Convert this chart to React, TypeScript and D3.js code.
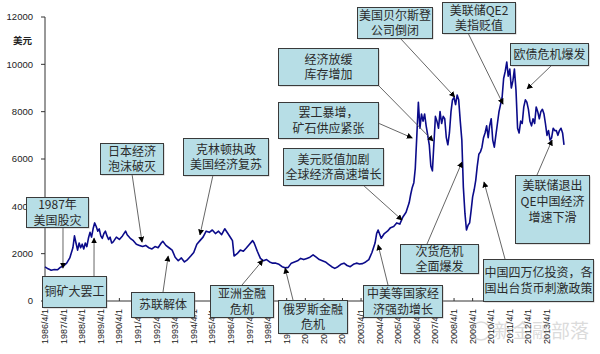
import React, { useEffect, useRef } from 'react';
import * as d3 from 'd3';

// LME copper, USD/t, monthly readings
const months = [
  '1986-04', '1986-06', '1986-08', '1986-10', '1986-12', '1987-02', '1987-04', '1987-06', '1987-08', '1987-10',
  '1987-11', '1987-12', '1988-01', '1988-02', '1988-03', '1988-04', '1988-05', '1988-06', '1988-07', '1988-08',
  '1988-09', '1988-10', '1988-11', '1988-12', '1989-01', '1989-02', '1989-03', '1989-04', '1989-05', '1989-06',
  '1989-07', '1989-08', '1989-09', '1989-10', '1989-11', '1989-12', '1990-02', '1990-04', '1990-06', '1990-08',
  '1990-09', '1990-11', '1991-01', '1991-03', '1991-05', '1991-07', '1991-09', '1991-11', '1992-01', '1992-03',
  '1992-05', '1992-07', '1992-08', '1992-10', '1992-12', '1993-02', '1993-04', '1993-06', '1993-08', '1993-10',
  '1993-12', '1994-02', '1994-04', '1994-06', '1994-08', '1994-10', '1994-12', '1995-02', '1995-04', '1995-06',
  '1995-08', '1995-10', '1995-12', '1996-02', '1996-04', '1996-05', '1996-06', '1996-08', '1996-10', '1996-12',
  '1997-02', '1997-04', '1997-06', '1997-07', '1997-09', '1997-11', '1998-01', '1998-03', '1998-05', '1998-07',
  '1998-09', '1998-11', '1999-01', '1999-03', '1999-05', '1999-07', '1999-09', '1999-11', '2000-01', '2000-03',
  '2000-05', '2000-07', '2000-09', '2000-11', '2001-01', '2001-03', '2001-05', '2001-07', '2001-09', '2001-11',
  '2002-01', '2002-03', '2002-05', '2002-07', '2002-09', '2002-11', '2003-01', '2003-03', '2003-05', '2003-07',
  '2003-09', '2003-11', '2004-01', '2004-02', '2004-03', '2004-05', '2004-07', '2004-09', '2004-11', '2005-01',
  '2005-03', '2005-05', '2005-07', '2005-09', '2005-11', '2005-12', '2006-01', '2006-02', '2006-03', '2006-04',
  '2006-05', '2006-06', '2006-07', '2006-08', '2006-09', '2006-10', '2006-11', '2006-12', '2007-01', '2007-02',
  '2007-03', '2007-04', '2007-05', '2007-06', '2007-07', '2007-08', '2007-09', '2007-10', '2007-11', '2007-12',
  '2008-01', '2008-02', '2008-03', '2008-04', '2008-05', '2008-06', '2008-07', '2008-08', '2008-09', '2008-10',
  '2008-11', '2008-12', '2009-01', '2009-02', '2009-03', '2009-04', '2009-05', '2009-06', '2009-07', '2009-08',
  '2009-09', '2009-10', '2009-11', '2009-12', '2010-01', '2010-02', '2010-03', '2010-04', '2010-05', '2010-06',
  '2010-07', '2010-08', '2010-09', '2010-10', '2010-11', '2010-12', '2011-01', '2011-02', '2011-03', '2011-04',
  '2011-05', '2011-06', '2011-07', '2011-08', '2011-09', '2011-10', '2011-11', '2011-12', '2012-01', '2012-02',
  '2012-03', '2012-04', '2012-05', '2012-06', '2012-07', '2012-08', '2012-09', '2012-10', '2012-11', '2012-12',
  '2013-01', '2013-02', '2013-03', '2013-04', '2013-05', '2013-06', '2013-07', '2013-08', '2013-09', '2013-10',
  '2013-11', '2013-12', '2014-01', '2014-02', '2014-03',
];
const prices = [
  1440, 1360, 1300, 1330, 1320, 1430, 1480, 1600, 1820, 2250,
  2750, 2450, 2150, 2450, 2250, 2400, 2200, 2450, 2300, 2650,
  2900, 2700, 3050, 3300, 3150, 2950, 3050, 2750, 2650, 2850,
  2950, 2750, 2600, 2700, 2450, 2500, 2700, 2600, 2750, 2950,
  2800, 2650, 2550, 2400, 2350, 2300, 2350, 2250, 2200, 2300,
  2250, 2450, 2520, 2350, 2250, 2150, 1850, 1700, 1820, 1650,
  1750, 1900, 2050, 2400, 2550, 2700, 2950, 2900, 3000, 2850,
  2950, 2800, 3050, 2850, 2650, 2550, 1900, 2000, 2150, 2100,
  2250, 2400, 2550, 2450, 2100, 1800, 1700, 1750, 1650, 1600,
  1600, 1550, 1450, 1400, 1420, 1600, 1650, 1700, 1800, 1750,
  1800, 1850, 1950, 1850, 1750, 1700, 1650, 1550, 1450, 1380,
  1450, 1550, 1600, 1500, 1450, 1550, 1600, 1560, 1580, 1650,
  1750, 2050, 2450, 2850, 3000, 2650, 2850, 2950, 3100, 3150,
  3300, 3250, 3550, 3750, 4150, 4500, 4800, 5000, 5600, 7000,
  8400, 7300, 7900, 7600, 7900, 7400, 7000, 6600, 5700, 5500,
  6600, 7800, 7600, 7300, 8000, 7500, 7800, 7700, 6900, 6600,
  7100, 8000, 8500, 8600, 8300, 8700, 8500, 7600, 6800, 4800,
  3700, 3000, 3200, 3300, 3800, 4400, 4700, 5100, 5700, 6200,
  6300, 6500, 6900, 7100, 7400, 6900, 7400, 7700, 6800, 6500,
  7000, 7500, 8000, 8300, 8600, 9400, 9700, 10100, 9500, 9800,
  9000, 9300, 9800, 8900, 7300, 7100, 7600, 7500, 8200, 8500,
  8400, 8100, 7600, 7400, 7700, 7500, 8200, 8000, 7700, 8000,
  8100, 7900, 7500, 7000, 7200, 6800, 6900, 7300, 7200, 7200,
  7000, 7200, 7300, 7100, 6600,
];

const yTicks = [0, 2000, 4000, 6000, 8000, 10000, 12000];
const xTickDates = [
  '1986-04-01', '1987-04-01', '1988-04-01', '1989-04-01', '1990-04-01', '1991-04-01', '1992-04-01',
  '1993-04-01', '1994-04-01', '1995-04-01', '1996-04-01', '1997-04-01', '1998-04-01', '1999-04-01',
  '2000-04-01', '2001-04-01', '2002-04-01', '2003-04-01', '2004-04-01', '2005-04-01', '2006-04-01',
  '2007-04-01', '2008-04-01', '2009-04-01', '2010-04-01', '2011-04-01', '2012-04-01', '2013-04-01',
];
const xTickLabels = [
  '1986/4/1', '1987/4/1', '1988/4/1', '1989/4/1', '1990/4/1', '1991/4/1', '1992/4/1',
  '1993/4/1', '1994/4/1', '1995/4/1', '1996/4/1', '1997/4/1', '1998/4/1', '1999/4/1',
  '2000/4/1', '2001/4/1', '2002/4/1', '2003/4/1', '2004/4/1', '2005/4/1', '2006/4/1',
  '2007/4/1', '2008/4/1', '2009/4/1', '2010/4/1', '2011/4/1', '2012/4/1', '2013/4/1',
];

// annotation texts and the point on the curve each arrow points at
const noteTexts = [
  '日本经济\n泡沫破灭', '克林顿执政\n美国经济复苏', '经济放缓\n库存增加', '罢工暴增，\n矿石供应紧张',
  '美元贬值加剧\n全球经济高速增长', '美国贝尔斯登\n公司倒闭', '美联储QE2\n美指贬值', '欧债危机爆发',
  '美联储退出\nQE中国经济\n增速下滑', '中国四万亿投资，各\n国出台货币刺激政策', '次货危机\n全面爆发',
  '中美等国家经\n济强劲增长', '俄罗斯金融\n危机', '亚洲金融\n危机', '苏联解体', '铜矿大罢工', '1987年\n美国股灾',
];
const noteDates = [
  '1991-06-20', '1994-08-01', '2007-02-15', '2006-01-01', '2005-06-15', '2008-04-15', '2010-11-20',
  '2012-03-05', '2013-07-10', '2009-11-10', '2008-09-05', '2004-03-01', '1999-03-01', '1997-12-20',
  '1992-11-15', '1988-11-20', '1987-03-20',
];
const noteValues = [
  2490, 2790, 6760, 6890, 3420, 8620, 8320, 8960, 6800, 5030, 5870, 2370, 1390, 1730, 1900, 2660, 1390,
];

// box layout: x, y, w, h, arrow start x, arrow start y
const noteBoxes = [
  [100, 143, 63, 31, 132, 174],
  [183, 138, 85, 37, 213, 175],
  [278, 48, 100, 37, 378, 85],
  [278, 102, 100, 36, 378, 123],
  [283, 148, 100, 37, 363, 185],
  [357, 7, 75, 31, 400, 38],
  [442, 2, 73, 31, 468, 33],
  [510, 43, 78, 22, 552, 65],
  [515, 175, 74, 68, 537, 175],
  [483, 259, 110, 42, 505, 259],
  [400, 244, 78, 29, 427, 244],
  [363, 285, 79, 32, 388, 285],
  [278, 300, 69, 33, 293, 300],
  [210, 285, 63, 32, 242, 285],
  [131, 292, 63, 25, 163, 292],
  [42, 276, 64, 31, 94, 276],
  [26, 197, 62, 30, 63, 227],
];

const W = 600;
const H = 354;
const numFont = '"Liberation Sans", Arial, sans-serif';
const cjkFont = '"Noto Sans CJK SC", "Liberation Sans", sans-serif';

const App = () => {
  const ref = useRef<SVGSVGElement>(null);

  useEffect(() => {
    const svg = d3.select(ref.current);
    svg.selectAll('*').remove();

    const parseM = d3.timeParse('%Y-%m');
    const parseD = d3.timeParse('%Y-%m-%d');

    const x = d3.scaleTime()
      .domain([parseD('1986-04-01')!, parseD('2013-04-01')!])
      .range([45, 547]);
    const y = d3.scaleLinear().domain([0, 12000]).range([301, 17]);

    const defs = svg.append('defs');
    defs.append('marker')
      .attr('id', 'ah')
      .attr('viewBox', '0 0 10 10')
      .attr('refX', 9)
      .attr('refY', 5)
      .attr('markerWidth', 6)
      .attr('markerHeight', 6)
      .attr('markerUnits', 'userSpaceOnUse')
      .attr('orient', 'auto')
      .append('path')
      .attr('d', 'M0,0L10,5L0,10z')
      .attr('fill', '#000');

    // y axis
    svg.append('line')
      .attr('x1', 45).attr('x2', 45)
      .attr('y1', y(12000)).attr('y2', y(0))
      .attr('stroke', '#333').attr('stroke-width', 1);
    yTicks.forEach(t => {
      svg.append('line')
        .attr('x1', 41).attr('x2', 45)
        .attr('y1', y(t)).attr('y2', y(t))
        .attr('stroke', '#333');
      svg.append('text')
        .attr('x', 33).attr('y', y(t)).attr('dy', '0.35em')
        .attr('text-anchor', 'end')
        .style('font-family', numFont).style('font-size', '9.5px')
        .attr('fill', '#222')
        .text(t);
    });
    svg.append('text')
      .attr('x', 32).attr('y', 41).attr('dy', '0.35em')
      .attr('text-anchor', 'end')
      .style('font-family', cjkFont).style('font-size', '9.5px').style('font-weight', 'bold')
      .attr('fill', '#222')
      .text('美元');

    // x axis
    svg.append('line')
      .attr('x1', 45).attr('x2', 567)
      .attr('y1', y(0)).attr('y2', y(0))
      .attr('stroke', '#333');
    xTickDates.forEach((d, i) => {
      const px = x(parseD(d)!);
      svg.append('line')
        .attr('x1', px).attr('x2', px)
        .attr('y1', y(0)).attr('y2', y(0) - 3)
        .attr('stroke', '#333');
      svg.append('text')
        .attr('transform', `translate(${px + 3},309) rotate(-90)`)
        .attr('text-anchor', 'end')
        .style('font-family', numFont).style('font-size', '9px')
        .attr('fill', '#222')
        .text(xTickLabels[i]);
    });

    // watermark
    const wm = svg.append('g').attr('opacity', 0.35);
    wm.append('circle').attr('cx', 481).attr('cy', 331).attr('r', 9)
      .attr('fill', 'none').attr('stroke', '#999').attr('stroke-width', 1.5);
    wm.append('text')
      .attr('x', 494).attr('y', 338)
      .style('font-family', cjkFont).style('font-size', '19px')
      .attr('fill', '#999')
      .text('新金融部落');

    // price line
    const line = d3.line<number>()
      .x((_, i) => x(parseM(months[i])!))
      .y(v => y(v));
    svg.append('path')
      .datum(prices)
      .attr('d', line)
      .attr('fill', 'none')
      .attr('stroke', '#0b0b8a')
      .attr('stroke-width', 1.6)
      .attr('stroke-linejoin', 'round');

    // arrows
    noteBoxes.forEach((b, i) => {
      svg.append('line')
        .attr('x1', b[4]).attr('y1', b[5])
        .attr('x2', x(parseD(noteDates[i])!))
        .attr('y2', y(noteValues[i]))
        .attr('stroke', '#555')
        .attr('stroke-width', 0.9)
        .attr('marker-end', 'url(#ah)');
    });

    // boxes
    noteBoxes.forEach((b, i) => {
      const g = svg.append('g');
      g.append('rect')
        .attr('x', b[0] + 1.5).attr('y', b[1] + 1.5)
        .attr('width', b[2]).attr('height', b[3])
        .attr('fill', '#8c8c8c').attr('opacity', 0.5);
      g.append('rect')
        .attr('x', b[0] + 0.5).attr('y', b[1] + 0.5)
        .attr('width', b[2]).attr('height', b[3])
        .attr('fill', '#b7dee6')
        .attr('stroke', '#3a3a3a')
        .attr('stroke-width', 1);
      const lines = noteTexts[i].split('\n');
      const n = lines.length;
      const step = 15.5;
      lines.forEach((t, k) => {
        const cy = n === 3
          ? b[1] + 10 + k * 16
          : b[1] + b[3] / 2 + (k - (n - 1) / 2) * step;
        g.append('text')
          .attr('x', b[0] + b[2] / 2 + 0.5)
          .attr('y', cy + 0.5)
          .attr('dy', '0.36em')
          .attr('text-anchor', 'middle')
          .style('font-family', cjkFont)
          .style('font-size', '12px')
          .attr('fill', '#2a2a2a')
          .text(t);
      });
    });
  }, []);

  return (
    <svg
      ref={ref}
      width={W}
      height={H}
      style={{ position: 'absolute', left: 0, top: 0, background: '#fff' }}
    />
  );
};

export default App;
